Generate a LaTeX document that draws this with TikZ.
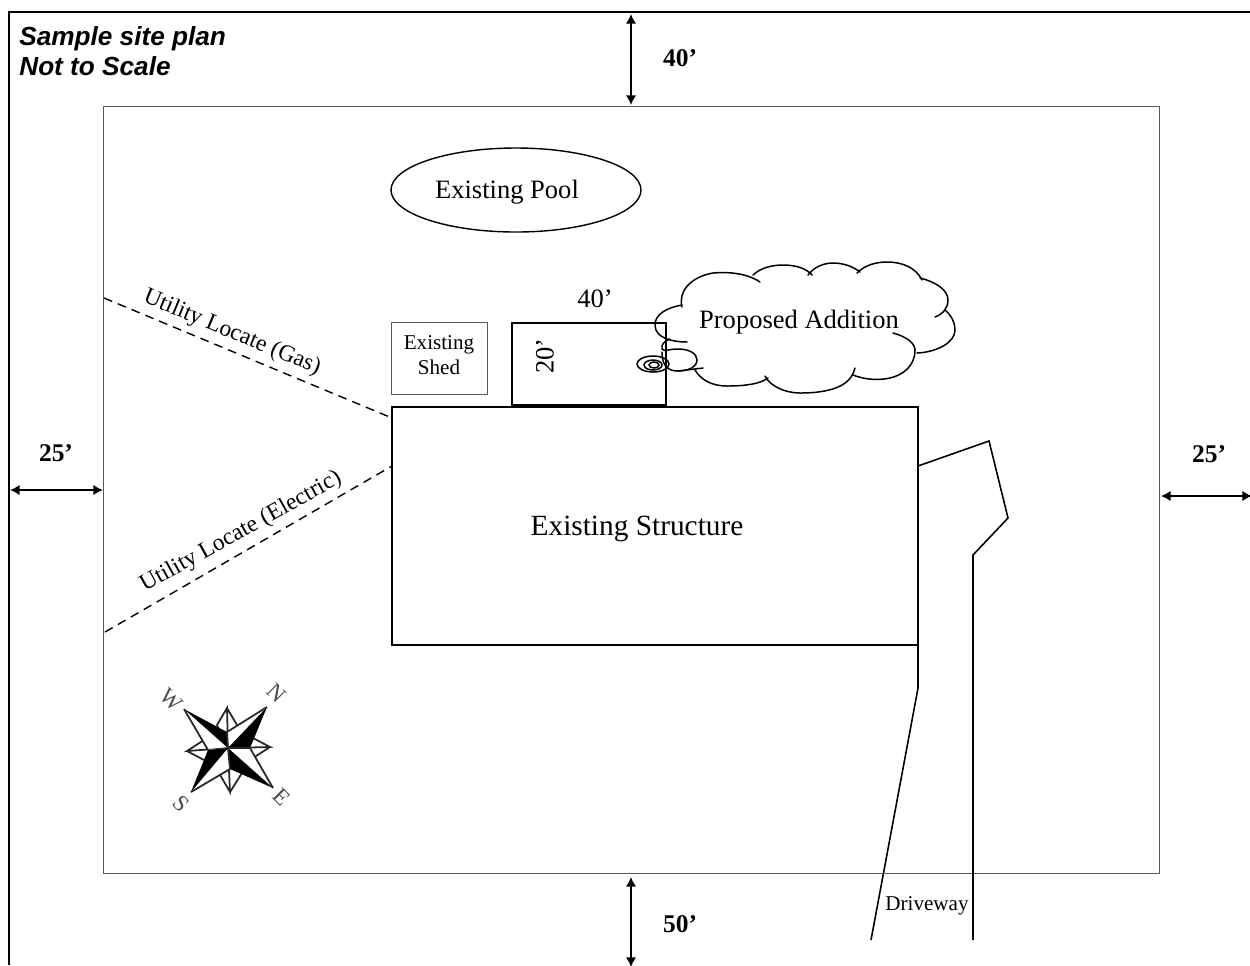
\documentclass[tikz,border=0pt]{standalone}
\usepackage{fontspec}
\setmainfont{Liberation Serif}
\setsansfont{Liberation Sans}
\usetikzlibrary{arrows.meta}
\usetikzlibrary{positioning}
\usetikzlibrary{math}
\tikzstyle{thinbox} = [draw=black!65, line width=0.45pt]
\tikzstyle{heavy} = [draw=black, line width=1.1pt]
\tikzstyle{arrow} = [{Latex[length=5.5pt,width=6pt]}-{Latex[length=5.5pt,width=6pt]}, line width=1.05pt]
\tikzstyle{dim} = [font=\fontsize{14.5}{17}\selectfont\bfseries, inner sep=0pt]
\tikzstyle{lbl} = [font=\fontsize{15.1}{17}\selectfont, inner sep=0pt]
\tikzstyle{small} = [font=\fontsize{12}{14.5}\selectfont, inner sep=0pt, align=center]
\tikzstyle{locate} = [font=\fontsize{13.4}{15}\selectfont, inner sep=0pt]
\tikzstyle{compass} = [font=\fontsize{13}{15}\selectfont, inner sep=0pt, rotate=-45, text=black!70]
\tikzstyle{cloudline} = [line width=0.85pt, line cap=round]
\tikzstyle{utility} = [line width=0.8pt, dash pattern=on 5pt off 3.5pt]
\begin{document}
\begin{tikzpicture}[x=0.02cm, y=-0.02cm]

  \tikzmath{\xmax = 1250; \ymax = 965;}
  \useasboundingbox (0,0) rectangle (\xmax,\ymax);

  % page edge
  \draw[heavy] (9,\ymax) -- (9,12) -- (\xmax,12);
  \node[font=\fontsize{14.9}{17}\selectfont\sffamily\bfseries\itshape, align=left, inner sep=0pt, anchor=north west] (title) at (19,26) {Sample site plan\\Not to Scale};

  % lot
  \draw[thinbox] (103,106) rectangle (1159,873);
  \coordinate (lotT) at (631,105);
  \coordinate (lotB) at (631,877);
  \coordinate (lotL) at (103,490);
  \coordinate (lotR) at (1161,496);
  \coordinate (edgeT) at (631,14);
  \coordinate (edgeB) at (631,967);
  \coordinate (edgeL) at (10,490);
  \coordinate (edgeR) at (1252,496);
  \draw[arrow] (edgeT) -- (lotT);
  \draw[arrow] (lotB) -- (edgeB);
  \draw[arrow] (edgeL) -- (lotL);
  \draw[arrow] (lotR) -- (edgeR);
  \node[dim] (setT) at (680,58) {40’};
  \node[dim] (setB) at (680,924) {50’};
  \node[dim] (setL) at (56,453) {25’};
  \node[dim] (setR) at (1209,454) {25’};

  % buildings
  \draw[line width=0.8pt] (516,190) ellipse (125 and 42);
  \node[lbl] (pool) at (507,192) {Existing Pool};
  \draw[thinbox] (391,322) rectangle (487,394);
  \node[small] (shed) at (439,355) {Existing\\Shed};
  \draw[heavy] (512,323) rectangle (666,405);
  \node[lbl] (width) at (595,299) {40’};
  \node[lbl, rotate=90] (depth) at (545,356) {20’};
  \draw[heavy] (392,407) rectangle (918,645);
  \node[font=\fontsize{16.7}{18}\selectfont, inner sep=0pt] (house) at (637,529) {Existing Structure};

  % cloud
  \draw[cloudline] (682,305) .. controls (665,308) and (655,315) .. (655,325) .. controls (655,338) and (672,342) .. (687,342);
  \draw[cloudline] (760,282) .. controls (745,272) and (725,272) .. (713,273) .. controls (690,277) and (678,292) .. (682,307);
  \draw[cloudline] (753,275) .. controls (760,268) and (772,265) .. (783,265) .. controls (795,265) and (806,268) .. (812,275);
  \draw[cloudline] (808,275) .. controls (815,266) and (825,263) .. (833,263) .. controls (844,263) and (854,267) .. (860,272);
  \draw[cloudline] (857,273) .. controls (865,265) and (876,262) .. (887,262) .. controls (903,262) and (916,268) .. (922,280);
  \draw[cloudline] (920,278) .. controls (936,282) and (948,290) .. (948,300) .. controls (948,308) and (943,314) .. (935,317);
  \draw[cloudline] (945,310) .. controls (952,316) and (955,323) .. (955,330) .. controls (955,342) and (938,352) .. (917,353);
  \draw[cloudline] (893,333) .. controls (908,337) and (915,344) .. (915,350) .. controls (915,366) and (903,375) .. (890,378) .. controls (877,381) and (863,379) .. (853,375);
  \draw[cloudline] (855,368) .. controls (852,382) and (838,393) .. (800,393) .. controls (785,393) and (770,386) .. (765,376);
  \draw[cloudline] (768,378) .. controls (760,384) and (745,386) .. (727,386) .. controls (712,386) and (701,380) .. (695,370);
  \node[lbl] (addition) at (799,322) {Proposed Addition};

  % bubbles
  \draw[cloudline] (670,339) .. controls (664,341) and (661,345) .. (662,349) .. controls (665,352) and (668,349) .. (678,349) .. controls (690,349) and (697,354) .. (697,360) .. controls (697,367) and (688,371) .. (678,371) .. controls (668,371) and (662,366) .. (662,352);
  \draw[cloudline] (678,371) -- (703,368);
  \draw[cloudline] (653,364) ellipse (16 and 8);
  \draw[cloudline] (653,365) ellipse (9 and 5);
  \draw[cloudline] (654,365) ellipse (5 and 3);

  % utilities
  \coordinate (gasA) at (104,298);
  \coordinate (gasB) at (392,418);
  \coordinate (elecA) at (105,632);
  \coordinate (elecB) at (392,466);
  \draw[utility] (gasA) -- (gasB);
  \draw[utility] (elecA) -- (elecB);
  \node[locate, rotate=-22.5] (gas) at (232,333) {Utility Locate (Gas)};
  \node[locate, rotate=29] (elec) at (241,532) {Utility Locate (Electric)};

  % driveway
  \draw[line width=0.9pt] (918,466) -- (989,441) -- (1008,518) -- (973,555) -- (973,940);
  \draw[line width=0.9pt] (918,645) -- (918,688) -- (871,940);
  \node[small] (drive) at (927,906) {Driveway};

  % compass
  \foreach \tx/\ty/\ax/\ay/\bx/\by in {227/708/217/725/237/725, 270/747/253/738/253/758, 230/792/219/773/242/773, 187/751/204/740/204/760}
    \draw[line width=1pt, black!85] (228,748) -- (\tx,\ty) -- (\ax,\ay) -- (228,748) -- (\bx,\by) -- (\tx,\ty);
  \foreach \tx/\ty/\ax/\ay/\bx/\by in {184/709/227/732/208/750, 267/707/250/748/227/732, 273/788/230/769/250/748, 191/792/208/750/230/769} {
    \fill[white] (\tx,\ty) -- (\ax,\ay) -- (228,748) -- (\bx,\by) -- cycle;
    \draw[line width=1pt, black!85] (\tx,\ty) -- (\bx,\by) -- (228,748);
    \fill[black] (\tx,\ty) -- (\ax,\ay) -- (228,748) -- cycle;
  }
  \node[compass] (north) at (277,693) {N};
  \node[compass] (east) at (282,797) {E};
  \node[compass] (south) at (181,804) {S};
  \node[compass] (west) at (171,700) {W};

\end{tikzpicture}
\end{document}
